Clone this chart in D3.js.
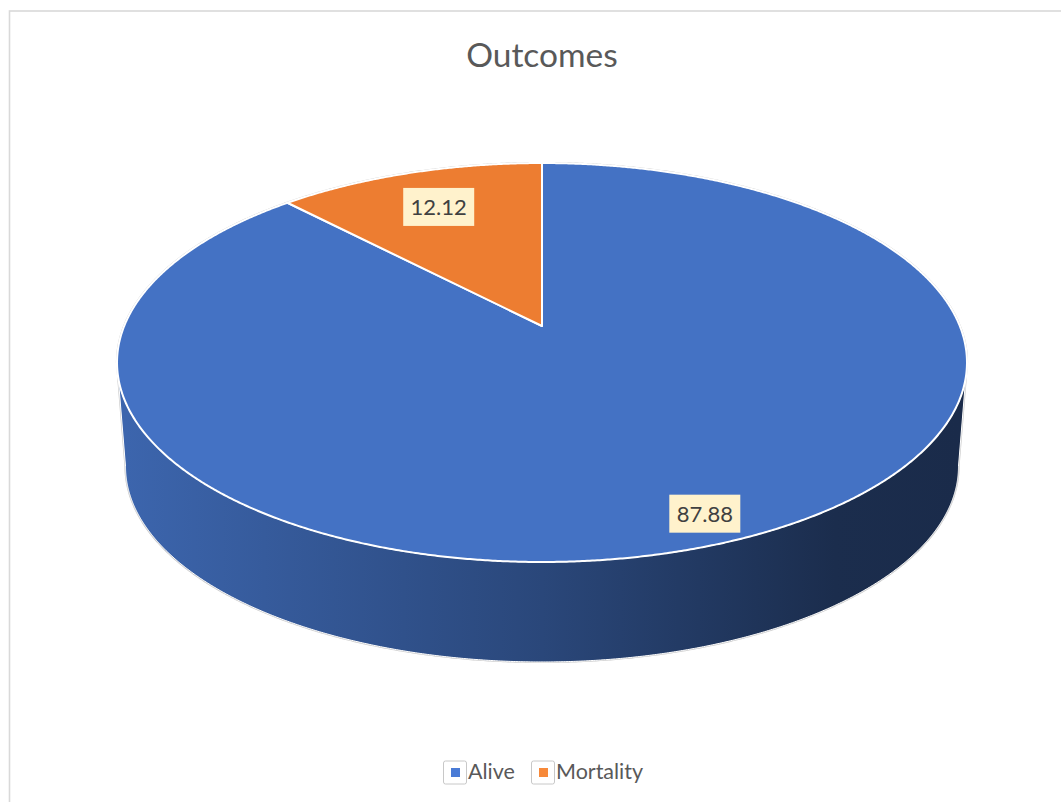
<!DOCTYPE html>
<html>
<head>
<meta charset="utf-8">
<script src="https://cdn.jsdelivr.net/npm/d3@7"></script>
<style>
  html, body { margin: 0; padding: 0; background: #ffffff; }
  svg { display: block; }
</style>
</head>
<body>
<svg id="chart" width="1061" height="802"></svg>
<script>
// ---- data ----
const categories = ["Alive", "Mortality"];
const values = [87.88, 12.12];
const valueLabels = ["87.88", "12.12"];
const chartTitle = "Outcomes";

// ---- styling / layout ----
const sliceColors = ["#4472c4", "#ed7d31"];
const legendColors = ["#4a7bd6", "#f7893a"];
const labelRadius = [0.89, 0.75];          // relative radius where each value label sits
const FONT = "Lato, 'Open Sans', sans-serif";

const svg = d3.select("#chart");
const W = 1061, H = 802;

// chart frame
svg.append("rect")
  .attr("x", 9.5).attr("y", 11)
  .attr("width", W + 20).attr("height", H + 20)
  .attr("fill", "#ffffff")
  .attr("stroke", "#d9d9d9")
  .attr("stroke-width", 1.6);

// title
svg.append("text")
  .attr("x", 542).attr("y", 67)
  .attr("text-anchor", "middle")
  .attr("font-family", FONT)
  .attr("font-size", 33.5)
  .attr("fill", "#595959")
  .text(chartTitle);

// ---- perspective projection of the pie disc ----
// angle a is measured clockwise from 12 o'clock (same convention as d3.pie)
const cx = 542, cy = 326;       // projected centre of the top face
const A = 417.8, B = 192.8;     // horizontal / depth radii
const K = 0.183;                // perspective foreshortening
const S = 0.98, DEPTH = 104.7;  // bottom face scale and drop

function topPt(a, r = 1) {
  const u = r * Math.sin(a), v = r * Math.cos(a), w = 1 + K * v;
  return [cx + A * u / w, cy - B * v / w];
}
function botPt(a) {
  const [x, y] = topPt(a);
  return [cx + S * (x - cx), cy + DEPTH + S * (y - cy)];
}
function sampleAngles(a0, a1) {
  const n = Math.max(2, Math.ceil(Math.abs(a1 - a0) / 0.005));
  return d3.range(n + 1).map(i => a0 + (a1 - a0) * i / n);
}

const data = categories.map((c, i) => ({ name: c, value: values[i], label: valueLabels[i], color: sliceColors[i], lr: labelRadius[i] }));
const arcs = d3.pie().sort(null).value(d => d.value)(data);

const line = d3.line();

// silhouette edges of the side wall
const sideStart = Math.acos(-K);            // right-most point of the disc
const sideEnd = 2 * Math.PI - Math.acos(-K); // left-most point of the disc

// side gradient (lit from the left)
const defs = svg.append("defs");
function shade(col, f) {
  const c = d3.rgb(col);
  return d3.rgb(c.r * f, c.g * f, c.b * f).formatHex();
}
arcs.forEach((d, i) => {
  const g = defs.append("linearGradient")
    .attr("id", "side-" + i)
    .attr("gradientUnits", "userSpaceOnUse")
    .attr("x1", 125).attr("y1", 0).attr("x2", 960).attr("y2", 0);
  [[0, 0.885], [0.5, 0.62], [0.85, 0.395], [1, 0.38]].forEach(([o, f]) => {
    g.append("stop").attr("offset", o).attr("stop-color", shade(d.data.color, f));
  });
});

// faint outer outline of the whole solid
const outline = sampleAngles(sideEnd, sideStart + 2 * Math.PI).map(a => topPt(a))
  .concat(sampleAngles(sideStart, sideEnd).map(a => botPt(a)));
svg.append("path")
  .attr("d", line(outline) + "Z")
  .attr("fill", "none")
  .attr("stroke", "#c9c9c9")
  .attr("stroke-width", 2.2);

// side walls
arcs.forEach((d, i) => {
  const a0 = Math.max(d.startAngle, sideStart);
  const a1 = Math.min(d.endAngle, sideEnd);
  if (a1 <= a0) return;
  const pts = sampleAngles(a0, a1).map(a => topPt(a))
    .concat(sampleAngles(a1, a0).map(a => botPt(a)));
  svg.append("path")
    .attr("d", line(pts) + "Z")
    .attr("fill", `url(#side-${i})`)
    .attr("stroke", "#ffffff")
    .attr("stroke-width", 1)
    .attr("stroke-linejoin", "round");
});

// top faces
arcs.forEach(d => {
  const pts = [[cx, cy]].concat(sampleAngles(d.startAngle, d.endAngle).map(a => topPt(a)));
  svg.append("path")
    .attr("d", line(pts) + "Z")
    .attr("fill", d.data.color)
    .attr("stroke", "#ffffff")
    .attr("stroke-width", 2)
    .attr("stroke-linejoin", "round");
});

// value labels
arcs.forEach(d => {
  const mid = (d.startAngle + d.endAngle) / 2;
  const [x, y] = topPt(mid, d.data.lr);
  const g = svg.append("g").attr("transform", `translate(${x},${y})`);
  g.append("rect")
    .attr("x", -35.5).attr("y", -19)
    .attr("width", 71).attr("height", 38)
    .attr("fill", "#fff2cc");
  g.append("text")
    .attr("x", 0).attr("y", 8)
    .attr("text-anchor", "middle")
    .attr("font-family", FONT)
    .attr("font-size", 22)
    .attr("fill", "#404040")
    .text(d.data.label);
});

// legend
const legend = svg.append("g");
const legendItems = [
  { x: 443, name: categories[0], color: legendColors[0] },
  { x: 531, name: categories[1], color: legendColors[1] }
];
legendItems.forEach(it => {
  legend.append("rect")
    .attr("x", it.x + 0.5).attr("y", 761)
    .attr("width", 23).attr("height", 23)
    .attr("rx", 2)
    .attr("fill", "#ffffff")
    .attr("stroke", "#c8c8c8")
    .attr("stroke-width", 1);
  legend.append("rect")
    .attr("x", it.x + 8).attr("y", 768)
    .attr("width", 9).attr("height", 9)
    .attr("fill", it.color);
  legend.append("text")
    .attr("x", it.x + 25).attr("y", 779)
    .attr("font-family", FONT)
    .attr("font-size", 21.5)
    .attr("fill", "#595959")
    .text(it.name);
});
</script>
</body>
</html>
